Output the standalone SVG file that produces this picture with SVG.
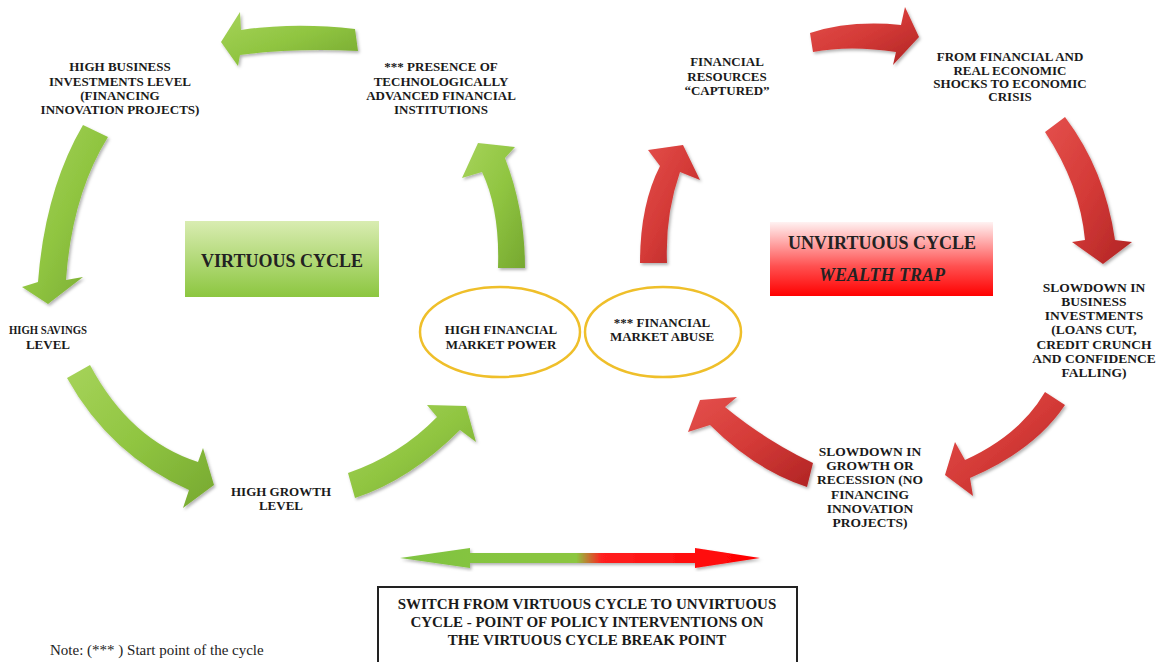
<svg xmlns="http://www.w3.org/2000/svg" width="1171" height="662" viewBox="0 0 1171 662">
<defs>
<style>
.lb{font-family:"Liberation Serif","Times New Roman",serif;font-weight:bold;font-size:13px;fill:#1a1a1a;text-anchor:middle}
.rb{font-size:13.5px}
.ttl{font-family:"Liberation Serif","Times New Roman",serif;font-weight:bold;font-size:18px;fill:#222;text-anchor:middle}
.ell{fill:#fff;stroke:#efbf2a;stroke-width:2.5}
.ga{fill:url(#gG);filter:url(#sh)}
.ra{fill:url(#gR);filter:url(#sh)}
</style>
<linearGradient id="gG" x1="0" y1="0" x2="1" y2="1">
<stop offset="0" stop-color="#a6d35a"/><stop offset="0.5" stop-color="#90c541"/><stop offset="1" stop-color="#76a830"/>
</linearGradient>
<linearGradient id="gR" x1="0" y1="0" x2="1" y2="1">
<stop offset="0" stop-color="#e4504c"/><stop offset="0.5" stop-color="#d43a37"/><stop offset="1" stop-color="#b02424"/>
</linearGradient>
<linearGradient id="vbox" x1="0" y1="0" x2="0" y2="1">
<stop offset="0" stop-color="#d9ecb2"/><stop offset="1" stop-color="#8cc640"/>
</linearGradient>
<linearGradient id="ubox" x1="0" y1="0" x2="0" y2="1">
<stop offset="0" stop-color="#fff2f2"/><stop offset="0.6" stop-color="#ff5050"/><stop offset="1" stop-color="#ff0000"/>
</linearGradient>
<linearGradient id="dbl" x1="398" y1="0" x2="762" y2="0" gradientUnits="userSpaceOnUse">
<stop offset="0" stop-color="#7fc342"/><stop offset="0.49" stop-color="#8cc63f"/><stop offset="0.56" stop-color="#ff2020"/><stop offset="1" stop-color="#ff0000"/>
</linearGradient>
<filter id="sh" x="-20%" y="-20%" width="140%" height="140%">
<feDropShadow dx="1.5" dy="2" stdDeviation="1.5" flood-color="#000" flood-opacity="0.3"/>
</filter>
</defs>
<rect width="1171" height="662" fill="#fff"/>

<g id="connectors">
<path class="ga" d="M355,29 Q295,22 241,30 L240,12 L221,42 L238,66 L240,55 Q295,48 358,51 Z"/>
<path class="ga" d="M83,125 Q45,190 38,282 L22,287 L48,304 L83,277 L66,280 Q72,195 108,137 Z"/>
<path class="ga" d="M90,365 Q130,440 198,462 L203,448 L214,485 L183,508 L189,490 Q110,455 67,378 Z"/>
<path class="ga" d="M348,473 Q400,455 437,417 L427,405 L466,406 L476,442 L460,430 Q410,480 355,498 Z"/>
<path class="ga" d="M498,268 Q500,210 482,172 L462,178 L478,143 L515,147 L505,158 Q525,210 525,268 Z"/>
<path class="ra" d="M640,263 Q640,205 660,166 L648,150 L683,145 L700,180 L680,172 Q665,215 667,263 Z"/>
<path class="ra" d="M810,33 Q850,20 901,25 L905,7 L919,37 L893,65 L896,52 Q850,45 813,52 Z"/>
<path class="ra" d="M1045,132 Q1080,185 1085,240 L1072,242 L1103,264 L1132,242 L1115,240 Q1105,170 1065,117 Z"/>
<path class="ra" d="M1045,392 Q1020,435 965,460 L955,442 L945,475 L973,496 L970,478 Q1035,450 1065,405 Z"/>
<path class="ra" d="M813,463 Q765,440 725,407 L737,397 L700,400 L688,432 L710,425 Q755,470 807,487 Z"/>
<path fill="url(#dbl)" filter="url(#sh)" d="M400,558 L470,548 L470,553 L695,553 L695,548 L760,558 L695,568 L695,563 L470,563 L470,568 Z"/>
</g>

<g id="n-business">
<text class="lb" x="120" y="71">HIGH BUSINESS</text>
<text class="lb" x="120" y="86">INVESTMENTS  LEVEL</text>
<text class="lb" x="120" y="100">(FINANCING</text>
<text class="lb" x="120" y="114">INNOVATION  PROJECTS)</text>
</g>
<g id="n-presence">
<text class="lb" x="441" y="71">*** PRESENCE OF</text>
<text class="lb" x="441" y="86">TECHNOLOGICALLY</text>
<text class="lb" x="441" y="100">ADVANCED  FINANCIAL</text>
<text class="lb" x="441" y="114">INSTITUTIONS</text>
</g>
<g id="n-captured">
<text class="lb" x="727" y="66">FINANCIAL</text>
<text class="lb" x="727" y="81">RESOURCES</text>
<text class="lb" x="727" y="95">“CAPTURED”</text>
</g>
<g id="n-shocks">
<text class="lb" x="1010" y="61">FROM FINANCIAL  AND</text>
<text class="lb" x="1010" y="75">REAL ECONOMIC</text>
<text class="lb" x="1010" y="88">SHOCKS TO ECONOMIC</text>
<text class="lb" x="1010" y="101">CRISIS</text>
</g>
<g id="n-virtuous">
<rect x="185" y="221" width="194" height="76" fill="url(#vbox)"/>
<text class="ttl" x="282" y="267">VIRTUOUS CYCLE</text>
</g>
<g id="n-unvirtuous">
<rect x="770" y="222" width="223" height="74" fill="url(#ubox)"/>
<text class="ttl" x="882" y="249">UNVIRTUOUS CYCLE</text>
<text class="ttl" x="882" y="281" font-style="italic">WEALTH TRAP</text>
</g>
<g id="n-savings">
<text class="lb" x="48" y="334" textLength="78" lengthAdjust="spacingAndGlyphs">HIGH SAVINGS</text>
<text class="lb" x="48" y="349">LEVEL</text>
</g>
<g id="n-growth">
<text class="lb" x="281" y="496">HIGH GROWTH</text>
<text class="lb" x="281" y="510">LEVEL</text>
</g>
<g id="n-power">
<ellipse class="ell" cx="500" cy="332" rx="80" ry="45"/>
<text class="lb" x="501" y="334">HIGH FINANCIAL</text>
<text class="lb" x="501" y="349">MARKET  POWER</text>
</g>
<g id="n-abuse">
<ellipse class="ell" cx="663" cy="332" rx="78" ry="45"/>
<text class="lb" x="662" y="327">*** FINANCIAL</text>
<text class="lb" x="662" y="341">MARKET  ABUSE</text>
</g>
<g id="n-slowinv">
<text class="lb rb" x="1094" y="292">SLOWDOWN  IN</text>
<text class="lb rb" x="1094" y="306">BUSINESS</text>
<text class="lb rb" x="1094" y="320">INVESTMENTS</text>
<text class="lb rb" x="1094" y="334">(LOANS CUT,</text>
<text class="lb rb" x="1094" y="349">CREDIT CRUNCH</text>
<text class="lb rb" x="1094" y="363">AND CONFIDENCE</text>
<text class="lb rb" x="1094" y="377">FALLING)</text>
</g>
<g id="n-slowgrowth">
<text class="lb rb" x="870" y="456">SLOWDOWN  IN</text>
<text class="lb rb" x="870" y="470">GROWTH OR</text>
<text class="lb rb" x="870" y="484">RECESSION (NO</text>
<text class="lb rb" x="870" y="499">FINANCING</text>
<text class="lb rb" x="870" y="513">INNOVATION</text>
<text class="lb rb" x="870" y="527">PROJECTS)</text>
</g>
<g id="n-switch">
<rect x="378" y="587" width="419" height="80" fill="#fff" stroke="#222" stroke-width="2"/>
<text class="lb" x="587" y="609" style="font-size:15px">SWITCH FROM VIRTUOUS CYCLE  TO UNVIRTUOUS</text>
<text class="lb" x="587" y="627" style="font-size:15px">CYCLE -   POINT OF POLICY INTERVENTIONS ON</text>
<text class="lb" x="587" y="645" style="font-size:15px">THE  VIRTUOUS CYCLE BREAK POINT</text>
</g>
<g id="note">
<text x="50" y="655" style="font-family:'Liberation Serif','Times New Roman',serif;font-size:15px;fill:#222">Note: (*** ) Start point of the cycle</text>
</g>
</svg>
